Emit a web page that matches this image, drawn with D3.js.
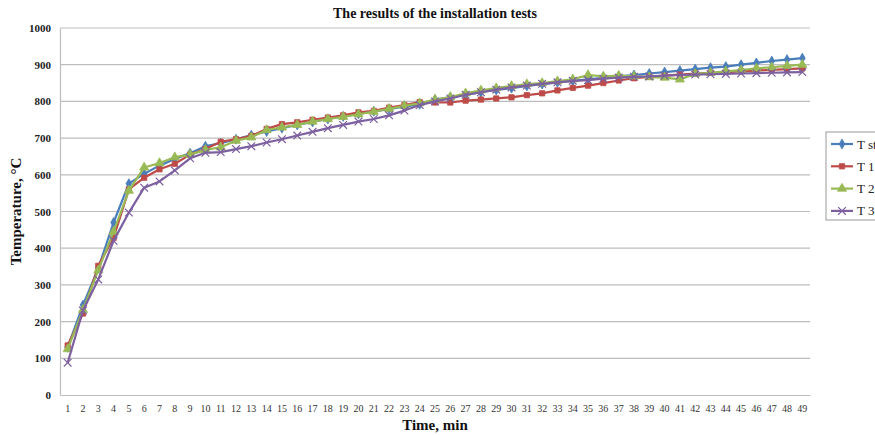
<!DOCTYPE html>
<html>
<head>
<meta charset="utf-8">
<script src="https://cdn.jsdelivr.net/npm/d3@7"></script>
<style>
  body { margin: 0; background: #fff; }
  svg { display: block; font-family: "Liberation Serif", "Times New Roman", serif; }
</style>
</head>
<body>
<svg id="chart" width="875" height="435"></svg>
<script>
// minutes 1..49
const minutes = d3.range(1, 50);
const yTicks = [0, 100, 200, 300, 400, 500, 600, 700, 800, 900, 1000];

const tStandard = [130, 245, 345, 470, 576, 603, 625, 643, 659, 678, 686, 697, 708, 718, 727, 736, 744, 752, 759, 766,
  773, 779, 786, 792, 805, 811, 818, 825, 831, 836, 842, 847, 852, 856, 860, 864, 868, 872, 876, 880,
  884, 888, 892, 895, 900, 905, 910, 914, 918];
const t1 = [135, 222, 352, 428, 560, 592, 615, 630, 655, 670, 690, 697, 706, 725, 738, 743, 750, 756, 762, 770,
  774, 783, 790, 798, 797, 797, 802, 805, 808, 811, 817, 822, 830, 837, 843, 850, 857, 863, 867, 870,
  873, 876, 878, 880, 882, 884, 886, 888, 890];
const t2 = [125, 232, 340, 445, 557, 620, 632, 648, 655, 668, 675, 693, 702, 722, 729, 736, 745, 752, 758, 765,
  772, 780, 788, 795, 805, 812, 822, 830, 836, 842, 847, 850, 855, 860, 872, 868, 870, 868, 866, 865,
  860, 875, 878, 882, 885, 890, 893, 897, 900];
const t3 = [88, 230, 315, 420, 497, 565, 582, 612, 645, 660, 662, 670, 678, 688, 697, 707, 717, 727, 736, 745,
  752, 762, 775, 790, 800, 808, 818, 825, 832, 838, 843, 848, 852, 856, 858, 862, 865, 867, 868, 870,
  872, 873, 874, 875, 876, 877, 878, 879, 880];

const seriesNames = ["T standard", "T 1", "T 2", "T 3"];
const seriesColors = ["#4a7ebb", "#be4b48", "#98b954", "#7d60a0"];
const seriesShapes = [d3.symbolDiamond, d3.symbolSquare, d3.symbolTriangle, d3.symbolTimes];
const seriesData = [tStandard, t1, t2, t3];

const svg = d3.select("#chart");
const plotLeft = 60, plotRight = 810, plotTop = 28, plotBottom = 395;

const x = d3.scaleBand().domain(minutes).range([plotLeft, plotRight]);
const y = d3.scaleLinear().domain([0, 1000]).range([plotBottom, plotTop]);

// gridlines
svg.append("g")
  .selectAll("line")
  .data(yTicks.filter(d => d > 0))
  .enter()
  .append("line")
  .attr("x1", plotLeft).attr("x2", plotRight)
  .attr("y1", d => y(d)).attr("y2", d => y(d))
  .attr("stroke", "#bdbdbd").attr("stroke-width", 1.2);

// y axis
const yAxis = svg.append("g")
  .attr("transform", "translate(" + plotLeft + ",0)")
  .call(d3.axisLeft(y).tickValues(yTicks).tickFormat(d3.format("d")).tickSize(0).tickPadding(9));
yAxis.select(".domain").attr("stroke", "#bdbdbd").attr("stroke-width", 1.2);
yAxis.selectAll("text")
  .attr("font-family", "Liberation Serif")
  .attr("font-size", 11).attr("font-weight", "bold").attr("fill", "#222");

// x axis
const xAxis = svg.append("g")
  .attr("transform", "translate(0," + plotBottom + ")")
  .call(d3.axisBottom(x).tickSize(0).tickPadding(10));
xAxis.select(".domain").attr("stroke", "#bdbdbd").attr("stroke-width", 1.2);
xAxis.selectAll("text")
  .attr("font-family", "Liberation Serif")
  .attr("font-size", 10).attr("fill", "#333");

const cx = d => x(d) + x.bandwidth() / 2;
const line = d3.line().x((v, i) => cx(minutes[i])).y(v => y(v));

function marker(s) {
  return d3.symbol().type(seriesShapes[s]).size(s === 2 ? 36 : (s === 3 ? 40 : 28));
}

seriesData.forEach((vals, s) => {
  svg.append("path")
    .datum(vals)
    .attr("d", line)
    .attr("fill", "none")
    .attr("stroke", seriesColors[s])
    .attr("stroke-width", 2.2)
    .attr("stroke-linejoin", "round");

  svg.append("g")
    .selectAll("path")
    .data(vals)
    .enter()
    .append("path")
    .attr("d", marker(s))
    .attr("transform", (v, i) => "translate(" + cx(minutes[i]) + "," + y(v) + ")")
    .attr("fill", s === 3 ? "none" : seriesColors[s])
    .attr("stroke", seriesColors[s])
    .attr("stroke-width", s === 3 ? 1.2 : 0.8);
});

// title + axis titles
svg.append("text")
  .attr("x", 435).attr("y", 18)
  .attr("text-anchor", "middle")
  .attr("font-size", 14).attr("font-weight", "bold").attr("fill", "#111")
  .text("The results of the installation tests");

svg.append("text")
  .attr("x", 435).attr("y", 430)
  .attr("text-anchor", "middle")
  .attr("font-size", 15).attr("font-weight", "bold").attr("fill", "#111")
  .text("Time, min");

svg.append("text")
  .attr("transform", "translate(21," + ((plotTop + plotBottom) / 2) + ") rotate(-90)")
  .attr("text-anchor", "middle")
  .attr("font-size", 15).attr("font-weight", "bold").attr("fill", "#111")
  .text("Temperature, °C");

// legend (cut off at the right edge, as in the source image)
const lg = svg.append("g").attr("transform", "translate(826,132)");
lg.append("rect")
  .attr("width", 80).attr("height", 88)
  .attr("fill", "#fff").attr("stroke", "#999").attr("stroke-width", 1);
seriesNames.forEach((name, s) => {
  const ly = 12 + s * 22.3;
  lg.append("line")
    .attr("x1", 5).attr("x2", 27).attr("y1", ly).attr("y2", ly)
    .attr("stroke", seriesColors[s]).attr("stroke-width", 2.2);
  lg.append("path")
    .attr("d", marker(s))
    .attr("transform", "translate(16," + ly + ")")
    .attr("fill", s === 3 ? "none" : seriesColors[s])
    .attr("stroke", seriesColors[s])
    .attr("stroke-width", s === 3 ? 1.2 : 0.8);
  lg.append("text")
    .attr("x", 31).attr("y", ly + 4.5)
    .attr("font-size", 13).attr("fill", "#222")
    .text(name);
});
</script>
</body>
</html>
